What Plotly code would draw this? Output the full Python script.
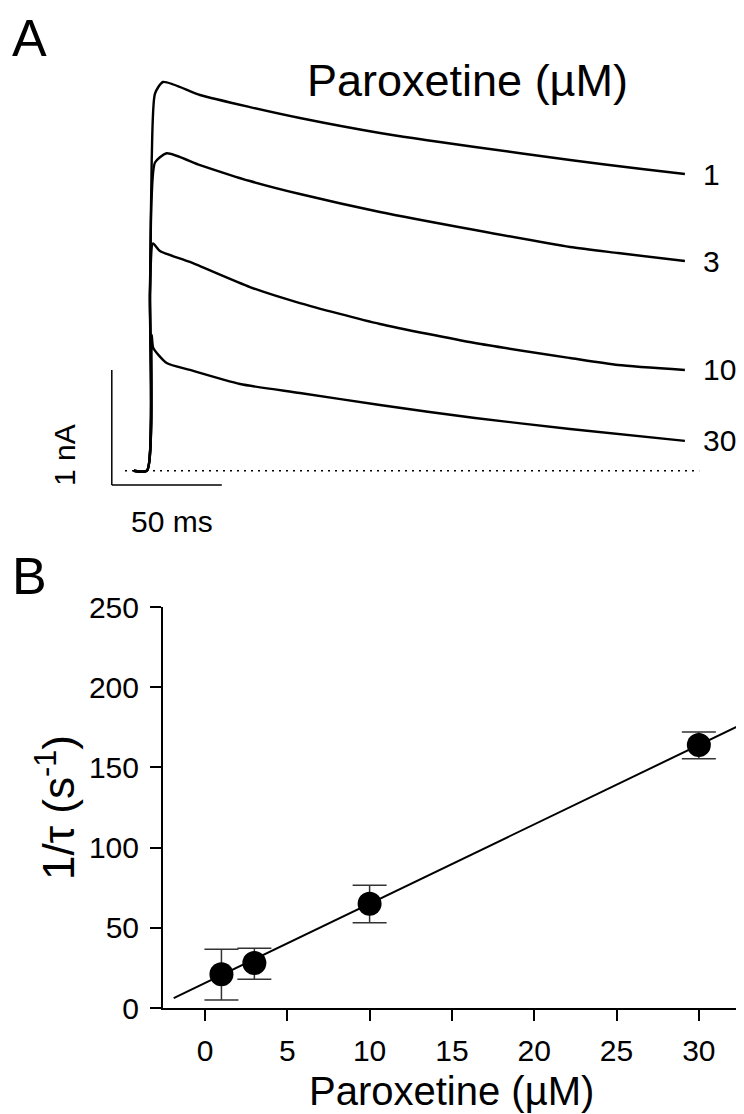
import plotly.graph_objects as go

# The page body has an 8px margin, so the figure covers reference pixels 8..744 / 8..1114
OFF = 8
W, H = 744 - OFF, 1114 - OFF

# ---------------- Panel A: current traces (time in ms, current in nA) ----------------
t_1 = [-6, 0, 1.36, 2.14, 3.64, 7.3, 24.1, 46.8, 69.5, 105.9, 149.1, 192.3, 225.0, 244.5]
i_1 = [0, 0, 1.55, 2.70, 3.28, 3.38, 3.267, 3.162, 3.067, 2.937, 2.815, 2.702, 2.623, 2.58]

t_3 = [-6, 0, 1.36, 2.05, 3.64, 8.95, 24.1, 46.8, 69.5, 105.9, 149.1, 192.3, 214.1, 244.5]
i_3 = [0, 0, 1.55, 2.35, 2.68, 2.76, 2.658, 2.519, 2.406, 2.25, 2.093, 1.945, 1.893, 1.823]

t_10 = [-6, 0, 1.36, 2.73, 5.9, 19.5, 46.8, 69.5, 105.9, 149.1, 192.3, 214.1, 244.5]
i_10 = [0, 0, 1.55, 1.976, 1.91, 1.815, 1.597, 1.458, 1.276, 1.11, 0.98, 0.919, 0.876]

t_30 = [-6, 0, 2.14, 2.86, 8.95, 19.5, 42.3, 69.5, 105.9, 149.1, 192.3, 244.5]
i_30 = [0, 0, 1.18, 1.067, 0.937, 0.876, 0.754, 0.676, 0.571, 0.458, 0.363, 0.259]

trace_labels = ["1", "3", "10", "30"]

# ---------------- Panel B: 1/tau vs paroxetine ----------------
conc = [1, 3, 10, 30]
rate = [21.0, 28.0, 65.0, 164.0]
rate_err_plus = [15.6, 9.2, 11.5, 8.0]
rate_err_minus = [16.0, 10.0, 11.8, 8.6]
fit_x = [-1.9, 32.4]
fit_y = [6.2, 175.8]
x_ticks = [0, 5, 10, 15, 20, 25, 30]
y_ticks = [0, 50, 100, 150, 200, 250]

FONT = "Liberation Sans, Arial, sans-serif"


def px(x):
    return (x - OFF) / W


def py(y):
    return 1 - (y - OFF) / H


fig = go.Figure()

# Panel A traces
for tt, ii in [(t_1, i_1), (t_3, i_3), (t_10, i_10), (t_30, i_30)]:
    fig.add_trace(go.Scatter(x=tt, y=ii, mode="lines", xaxis="x2", yaxis="y2",
                             line=dict(color="black", width=2.4, shape="spline", smoothing=0.6),
                             showlegend=False, hoverinfo="skip"))

# Panel B
fig.add_trace(go.Scatter(x=fit_x, y=fit_y, mode="lines",
                         line=dict(color="black", width=2), showlegend=False))
fig.add_trace(go.Scatter(
    x=conc, y=rate, mode="markers",
    marker=dict(color="black", size=24),
    error_y=dict(type="data", symmetric=False, array=rate_err_plus,
                 arrayminus=rate_err_minus, color="#333333", thickness=1.5, width=17),
    showlegend=False))

# Panel A geometry (ms / nA): 2.2 px per ms, 115 px per nA, onset at px 147, baseline at px 470.7
A_xrange = [(OFF - 147) / 2.2, (744 - 147) / 2.2]
A_yrange = [(470.7 - 540) / 115, (470.7 - OFF) / 115]

shapes = [
    # dotted baseline
    dict(type="line", xref="x2", yref="y2", x0=-10, x1=251, y0=0, y1=0,
         line=dict(color="black", width=1.6, dash="2px,5px")),
    # scale bars: 1 nA and 50 ms
    dict(type="line", xref="x2", yref="y2", x0=-16, x1=-16, y0=-0.124, y1=0.876,
         line=dict(color="black", width=1.5)),
    dict(type="line", xref="x2", yref="y2", x0=-16, x1=34, y0=-0.124, y1=-0.124,
         line=dict(color="black", width=1.5)),
]

annotations = []
for lab, ii in zip(trace_labels, [i_1, i_3, i_10, i_30]):
    annotations.append(dict(x=px(701), y=ii[-1], xref="paper", yref="y2", text=lab,
                            showarrow=False, xanchor="left", yanchor="middle",
                            font=dict(size=30, color="black", family=FONT)))

annotations += [
    dict(x=px(29), y=py(38), xref="paper", yref="paper", text="A", showarrow=False,
         xanchor="center", yanchor="middle", font=dict(size=52, color="black", family=FONT)),
    dict(x=px(29), y=py(576), xref="paper", yref="paper", text="B", showarrow=False,
         xanchor="center", yanchor="middle", font=dict(size=52, color="black", family=FONT)),
    dict(x=px(467), y=py(80), xref="paper", yref="paper", text="Paroxetine (µM)",
         showarrow=False, xanchor="center", yanchor="middle",
         font=dict(size=45, color="black", family=FONT)),
    dict(x=px(64), y=py(455), xref="paper", yref="paper", text="1 nA", textangle=-90,
         showarrow=False, xanchor="center", yanchor="middle",
         font=dict(size=30, color="black", family=FONT)),
    dict(x=px(172), y=py(521), xref="paper", yref="paper", text="50 ms",
         showarrow=False, xanchor="center", yanchor="middle",
         font=dict(size=30, color="black", family=FONT)),
    dict(x=px(451), y=py(1091), xref="paper", yref="paper", text="Paroxetine (µM)",
         showarrow=False, xanchor="center", yanchor="middle",
         font=dict(size=40, color="black", family=FONT)),
    dict(x=px(55), y=py(808), xref="paper", yref="paper",
         text="1/τ (s<sup>-1</sup>)", textangle=-90,
         showarrow=False, xanchor="center", yanchor="middle",
         font=dict(size=44, color="black", family=FONT)),
]

axis_common = dict(showline=True, linecolor="black", linewidth=2, ticks="outside",
                   ticklen=11, tickwidth=2, tickcolor="black", showgrid=False,
                   zeroline=False, automargin=False,
                   tickfont=dict(size=30, color="black", family=FONT))

fig.update_layout(
    template="none",
    width=W, height=H,
    margin=dict(l=0, r=0, t=0, b=0, pad=0),
    paper_bgcolor="white", plot_bgcolor="white",
    showlegend=False,
    font=dict(family=FONT, color="black"),
    xaxis=dict(domain=[px(163), px(740)], range=[-2.55, 32.5], tickvals=x_ticks,
               anchor="y", ticklabelstandoff=4, **axis_common),
    yaxis=dict(domain=[py(1008), py(607)], range=[0, 250], tickvals=y_ticks,
               anchor="x", ticklabelstandoff=5, **axis_common),
    xaxis2=dict(domain=[0, 1], range=A_xrange, visible=False, anchor="y2", automargin=False),
    yaxis2=dict(domain=[py(540), 1], range=A_yrange, visible=False, anchor="x2", automargin=False),
    shapes=shapes,
    annotations=annotations,
)

fig.write_html("out.html")
